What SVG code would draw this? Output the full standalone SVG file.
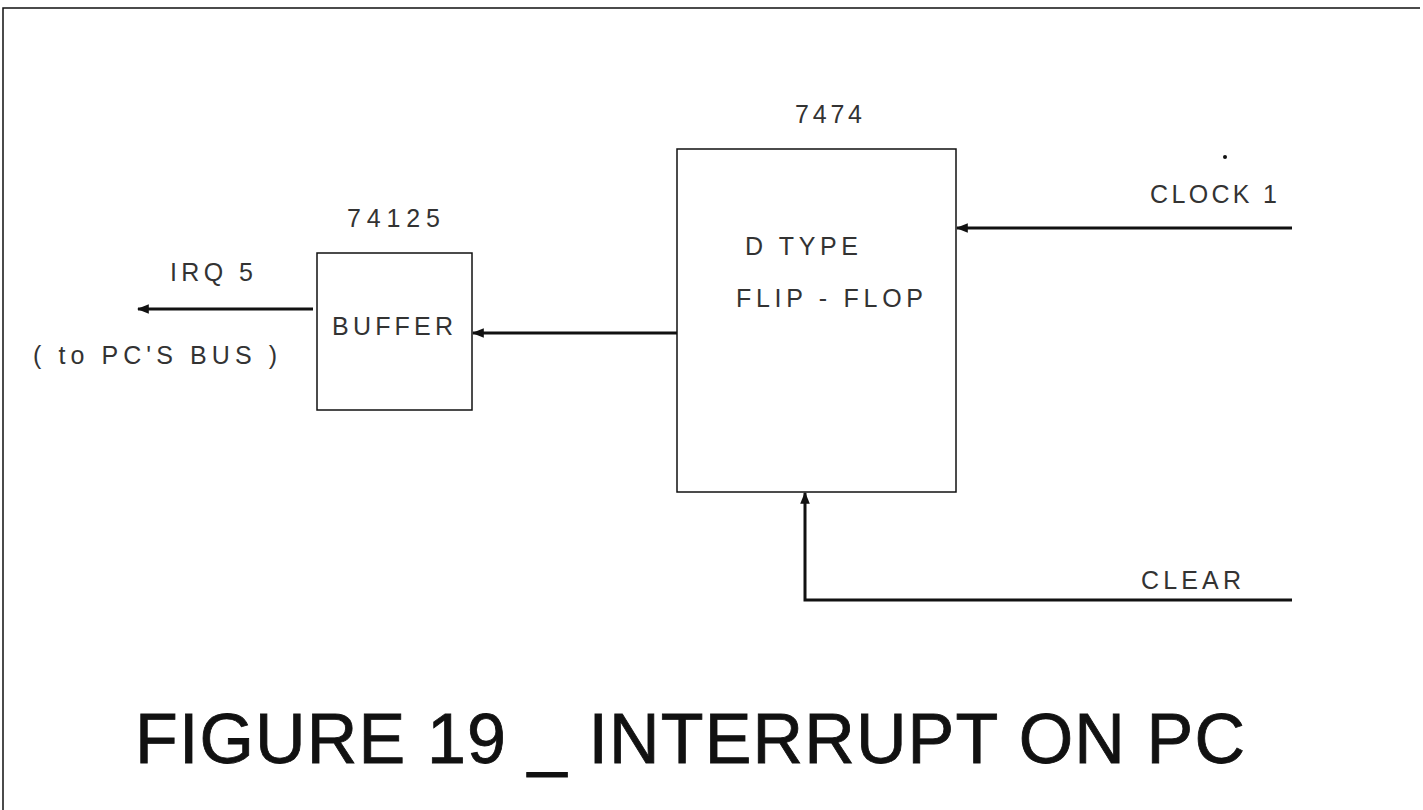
<svg xmlns="http://www.w3.org/2000/svg" width="1423" height="810" viewBox="0 0 1423 810">
<style>
.box{fill:none;stroke:#111;stroke-width:1.5}
.wire{fill:none;stroke:#111;stroke-width:3}
.lbl{font-family:"Liberation Sans",Arial,sans-serif;font-size:25px;fill:#333;font-weight:normal}
.title{font-family:"Liberation Sans",Arial,sans-serif;font-size:70px;fill:#111;font-weight:normal;stroke:#111;stroke-width:0.8}
</style>
<defs>
<marker id="arr" viewBox="0 0 10 10" refX="9" refY="5" markerWidth="4" markerHeight="4" orient="auto" markerUnits="strokeWidth">
<path d="M0,1 L10,5 L0,9 Z" fill="#111"/>
</marker>
</defs>
<rect width="1423" height="810" fill="#fff"/>
<g id="frame">
<path d="M3,810 L3,8 L1420,8" fill="none" stroke="#111" stroke-width="1.5"/>
<circle cx="1225" cy="157" r="2" fill="#111"/>
</g>
<g id="buffer">
<rect class="box" x="317" y="253" width="155" height="157"/>
<text class="lbl" x="347" y="227" textLength="93" lengthAdjust="spacing">74125</text>
<text class="lbl" x="332" y="335" textLength="121" lengthAdjust="spacing">BUFFER</text>
</g>
<g id="flipflop">
<rect class="box" x="677" y="149" width="279" height="343"/>
<text class="lbl" x="795" y="123" textLength="67" lengthAdjust="spacing">7474</text>
<text class="lbl" x="745" y="255" textLength="113" lengthAdjust="spacing">D TYPE</text>
<text class="lbl" x="736" y="307" textLength="187" lengthAdjust="spacing">FLIP - FLOP</text>
</g>
<g id="irq">
<text class="lbl" x="170" y="281" textLength="83" lengthAdjust="spacing">IRQ 5</text>
<text class="lbl" x="33" y="364" textLength="244" lengthAdjust="spacing">( to PC'S BUS )</text>
</g>
<g id="clock">
<text class="lbl" x="1150" y="203" textLength="127" lengthAdjust="spacing">CLOCK 1</text>
</g>
<g id="clear">
<text class="lbl" x="1141" y="589" textLength="100" lengthAdjust="spacing">CLEAR</text>
</g>
<g id="connectors">
<line class="wire" x1="313" y1="309" x2="138" y2="309" marker-end="url(#arr)"/>
<line class="wire" x1="677" y1="333" x2="473" y2="333" marker-end="url(#arr)"/>
<line class="wire" x1="1292" y1="228" x2="957" y2="228" marker-end="url(#arr)"/>
<path class="wire" d="M1292,600 L805,600 L805,493" marker-end="url(#arr)"/>
</g>
<g id="caption">
<text class="title" x="135" y="763" textLength="1110" lengthAdjust="spacing">FIGURE 19 _ INTERRUPT ON PC</text>
</g>
</svg>
